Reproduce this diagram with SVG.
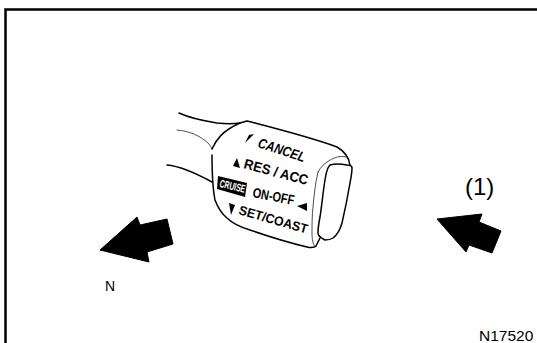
<svg xmlns="http://www.w3.org/2000/svg" width="537" height="343" viewBox="0 0 537 343">
<style>
text{font-family:"Liberation Sans",Arial,sans-serif;fill:#000}
.l{font-weight:bold;font-size:14px}
.o{fill:none;stroke:#000;stroke-width:1.5;stroke-linecap:round;stroke-linejoin:round}
.t{fill:none;stroke:#000;stroke-width:.7;stroke-linecap:round}
</style>
<rect width="537" height="343" fill="#fff"/>
<path d="M5.500 343V9.500H537" fill="none" stroke="#000" stroke-width="2.500"/>
<g id="switch">
<path class="o" d="M179 113C192 119 205 121 217 123C226 124 233 124 240 123"/>
<path class="t" d="M177 130C190 131 200 136 208 143C211 146 212 149 212 149"/>
<path class="o" d="M167 165C178 166 190 170 212 182"/>
<path class="o" d="M212 149C216 140 222 131 240 123L247 121C270 127 310 137 337 147C344 151 349 158 350 165"/>
<path class="o" d="M212 155C212 170 212 185 215 200C218 208 222 214 227 218C232 223 240 227 250 230C270 237 290 243 307 247C311 248 314 248 316 246L320 238"/>
<path class="o" d="M330 165C336 163 342 164 347 165C350 165 352 166 352 168C352 173 351 178 350 183C348 195 345 210 342 223C340 230 337 235 333 238C330 240 328 240 325 240C321 238 318 236 318 233C318 228 319 222 320 217C322 204 323 192 325 180C326 173 327 168 330 165Z"/>
<path class="t" d="M346 157C340 155 333 158 327 162C323 165 320 168 318 172"/>
<path class="t" d="M318 172C315 185 314 196 313 207C312 216 312 225 312 233C312 240 313 244 315 247"/>
<path d="M245 143L249 135L254 134Z" fill="#000"/>
<path d="M237 158L240 168L233 166Z" fill="#000"/>
<path d="M229 203L235 205L231 215Z" fill="#000"/>
<path d="M297 206L307 203L307 211Z" fill="#000"/>
<path d="M218 176L247 183L245 197L217 189Z" fill="#000"/>
<text class="l" transform="translate(219 187) rotate(13)" style="font-size:11px;fill:#fff" textLength="26" lengthAdjust="spacingAndGlyphs">CRUISE</text>
<text class="l" transform="translate(257 147) rotate(18)" font-style="italic" textLength="49" lengthAdjust="spacingAndGlyphs">CANCEL</text>
<text class="l" transform="translate(243 168) rotate(15)" textLength="66" lengthAdjust="spacingAndGlyphs">RES / ACC</text>
<text class="l" transform="translate(252 197) rotate(11)" textLength="42" lengthAdjust="spacingAndGlyphs">ON-OFF</text>
<text class="l" transform="translate(238 214) rotate(16)" style="font-size:13px" textLength="71" lengthAdjust="spacingAndGlyphs">SET/COAST</text>
</g>
<g id="arrow-n"><path d="M100 250L137 217L140 225L167 219L173 244L147 252L149 262Z" fill="#000" stroke="#000" stroke-linejoin="round"/></g>
<g id="arrow-1"><path d="M437 219L482 214L479 222L501 231L492 253L469 245L466 252Z" fill="#000" stroke="#000" stroke-linejoin="round"/></g>
<text id="label-n" x="105" y="290.500" font-size="14">N</text>
<text id="label-1" x="465" y="195" font-size="24">(1)</text>
<text id="code" x="479" y="341" font-size="15.500">N17520</text>
</svg>
